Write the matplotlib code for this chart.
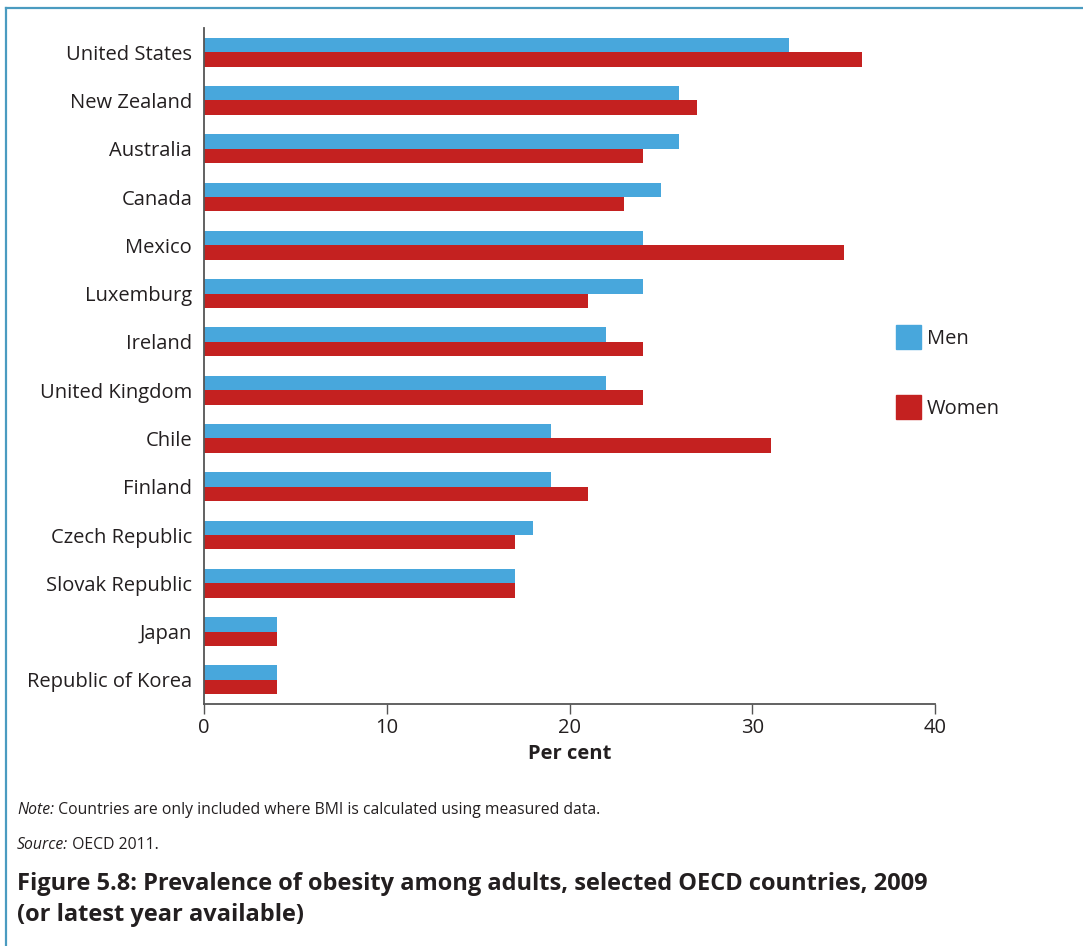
import matplotlib
matplotlib.use("Agg")
import matplotlib.pyplot as plt
from matplotlib.lines import Line2D
from matplotlib.patches import Patch
import numpy as np

countries = ["United States", "New Zealand", "Australia", "Canada", "Mexico",
             "Luxemburg", "Ireland", "United Kingdom", "Chile", "Finland",
             "Czech Republic", "Slovak Republic", "Japan", "Republic of Korea"]
men = [32, 26, 26, 25, 24, 24, 22, 22, 19, 19, 18, 17, 4, 4]
women = [36, 27, 24, 23, 35, 21, 24, 24, 31, 21, 17, 17, 4, 4]
x_ticks = [0, 10, 20, 30, 40]

MEN_C = "#48A7DC"
WOMEN_C = "#C42120"
TEXT_C = "#231F20"
FONT = ["Open Sans", "DejaVu Sans"]

plt.rcParams["font.family"] = FONT

W, H = 1083, 946
fig = plt.figure(figsize=(W / 100, H / 100), dpi=100)
ax = fig.add_axes([204 / W, 1 - 704 / H, (935 - 204) / W, (704 - 28) / H])

y = np.arange(len(countries))
bh = 0.3
ax.barh(y - bh / 2, men, height=bh, color=MEN_C, label="Men")
ax.barh(y + bh / 2, women, height=bh, color=WOMEN_C, label="Women")

ax.set_ylim(len(countries) - 0.5, -0.5)
ax.set_xlim(0, 40)
ax.set_yticks(y)
ax.set_yticklabels(countries, fontsize=14.5, color=TEXT_C)
ax.set_xticks(x_ticks)
ax.set_xticklabels([str(t) for t in x_ticks], fontsize=14.5, color=TEXT_C)
ax.tick_params(axis="y", length=0, pad=8.5)
ax.tick_params(axis="x", length=7, width=1, color="#555555", pad=3)
ax.set_xlabel("Per cent", fontsize=14.5, fontweight="bold", color=TEXT_C, labelpad=4.5)

for s in ["top", "right"]:
    ax.spines[s].set_visible(False)
for s in ["left", "bottom"]:
    ax.spines[s].set_color("#555555")
    ax.spines[s].set_linewidth(1.3)

handles = [Patch(color=MEN_C, label="Men"), Patch(color=WOMEN_C, label="Women")]
fig.legend(handles=handles, loc="upper left", bbox_to_anchor=(878 / W, 1 - 307 / H),
           frameon=False, fontsize=14.5, handlelength=1.24, handleheight=1.45,
           labelspacing=2.3, handletextpad=0.3, labelcolor=TEXT_C)

# Frame lines along the top and left edges
fig.add_artist(Line2D([5.5 / W, 1], [1 - 8.5 / H, 1 - 8.5 / H], color="#4A9BC0", lw=1.6,
                      transform=fig.transFigure))
fig.add_artist(Line2D([5.5 / W, 5.5 / W], [0, 1 - 8.5 / H], color="#4A9BC0", lw=1.6,
                      transform=fig.transFigure))

# Notes beneath the chart
fig.canvas.draw()
renderer = fig.canvas.get_renderer()


def label_pair(ypix, italic_part, rest):
    t1 = fig.text(17 / W, 1 - ypix / H, italic_part, fontsize=11.3, style="italic",
                  color=TEXT_C, va="center")
    bb = t1.get_window_extent(renderer=renderer)
    fig.text(bb.x1 / W, 1 - ypix / H, rest, fontsize=11.3, color=TEXT_C, va="center")


label_pair(810, "Note:", " Countries are only included where BMI is calculated using measured data.")
label_pair(845, "Source:", " OECD 2011.")

fig.text(17 / W, 1 - 884 / H, "Figure 5.8: Prevalence of obesity among adults, selected OECD countries, 2009",
         fontsize=17, fontweight="bold", color=TEXT_C, va="center")
fig.text(17 / W, 1 - 915 / H, "(or latest year available)",
         fontsize=17, fontweight="bold", color=TEXT_C, va="center")

fig.savefig("out.png", dpi=100, facecolor="white")
